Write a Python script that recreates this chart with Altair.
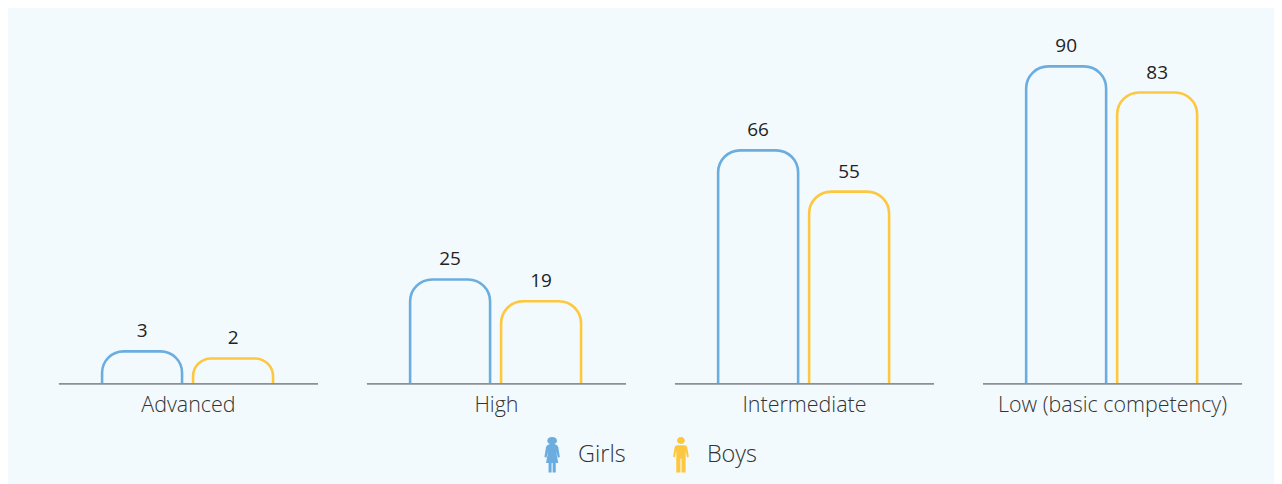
import altair as alt
import pandas as pd

categories = ["Advanced", "High", "Intermediate", "Low (basic competency)"]
genders = ["Girls", "Boys"]
girls_labels = [3, 25, 66, 90]
boys_labels = [2, 19, 55, 83]
# Bar heights as drawn in the picture (they are not strictly proportional to the printed labels)
girls_drawn = [9.2, 29.6, 66.2, 90.0]
boys_drawn = [7.2, 23.4, 54.5, 82.6]

BLUE = "#6cade0"
YELLOW = "#fdc83f"
BG = "#f2fafd"
GREY = "#8c8f93"

GIRL = ("M0 -1 C0.16 -1 0.27 -0.92 0.27 -0.78 C0.27 -0.7 0.2 -0.64 0.12 -0.61 L0.2 -0.58 Q0.31 -0.55 0.34 -0.44 "
        "L0.43 0.12 L0.32 0.16 L0.22 -0.2 L0.34 0.45 L0.2 0.45 L0.2 0.98 L0.03 0.98 L0.03 0.45 L-0.03 0.45 "
        "L-0.03 0.98 L-0.2 0.98 L-0.2 0.45 L-0.34 0.45 L-0.22 -0.2 L-0.32 0.16 L-0.43 0.12 L-0.34 -0.44 "
        "Q-0.31 -0.55 -0.2 -0.58 L-0.12 -0.61 C-0.2 -0.64 -0.27 -0.7 -0.27 -0.78 C-0.27 -0.92 -0.16 -1 0 -1 Z")
BOY = ("M0 -1 C0.12 -1 0.22 -0.91 0.22 -0.8 C0.22 -0.69 0.12 -0.6 0 -0.6 C-0.12 -0.6 -0.22 -0.69 -0.22 -0.8 "
       "C-0.22 -0.91 -0.12 -1 0 -1 Z M-0.2 -0.54 L0.2 -0.54 Q0.32 -0.54 0.35 -0.42 L0.44 0.1 L0.34 0.14 "
       "L0.26 -0.25 L0.26 0.98 L0.03 0.98 L0.03 0.2 L-0.03 0.2 L-0.03 0.98 L-0.26 0.98 L-0.26 -0.25 "
       "L-0.34 0.14 L-0.44 0.1 L-0.35 -0.42 Q-0.32 -0.54 -0.2 -0.54 Z")

rows = []
for i, c in enumerate(categories):
    rows.append({"cat": c, "gender": "Girls", "label": girls_labels[i], "drawn": girls_drawn[i]})
    rows.append({"cat": c, "gender": "Boys", "label": boys_labels[i], "drawn": boys_drawn[i]})
df = pd.DataFrame(rows)

x = alt.X("cat:N", sort=categories, title=None,
          scale=alt.Scale(domain=categories, paddingInner=0.159, paddingOuter=0),
          axis=alt.Axis(labelAngle=0, ticks=False, domain=False, grid=False, title=None,
                        labelFont="Open Sans", labelFontSize=21.5, labelFontWeight=300,
                        labelColor="#333333", labelPadding=11, labelLimit=400))
xo = alt.XOffset("gender:N", sort=genders,
                 scale=alt.Scale(domain=genders, paddingInner=0.121, paddingOuter=0.484, align=0.49))
yscale = alt.Scale(domain=[0, 92], nice=False, zero=False)

baseline = alt.Chart(df).mark_rect(stroke=GREY, strokeWidth=1.5, fillOpacity=0).encode(
    x=x,
    y=alt.Y(datum=0, scale=yscale, axis=None),
    y2=alt.datum(0),
)

# points only carry the pictogram legend; drawn first and tiny, behind the bar tops
keys = alt.Chart(df).mark_point(filled=True, size=1, opacity=1).encode(
    x=x,
    xOffset=xo,
    y=alt.Y("drawn:Q", scale=yscale, axis=None),
    color=alt.Color("gender:N", scale=alt.Scale(domain=genders, range=[BLUE, YELLOW]), title=None,
                    legend=alt.Legend(
                        orient="none", legendX=476, legendY=378, direction="horizontal", title=None,
                        symbolSize=1296, symbolStrokeWidth=0,
                        labelFont="Open Sans", labelFontSize=23.5, labelFontWeight=300, labelColor="#333333",
                        labelOffset=8, columnPadding=37, labelLimit=200)),
    shape=alt.Shape("gender:N", scale=alt.Scale(domain=genders, range=[GIRL, BOY]), title=None),
)

bars = alt.Chart(df).mark_bar(
    filled=False, fillOpacity=0, strokeWidth=2.6, clip=True,
    cornerRadiusTopLeft=22, cornerRadiusTopRight=22,
).encode(
    x=x,
    xOffset=xo,
    y=alt.Y("drawn:Q", scale=yscale, axis=None),
    y2=alt.datum(-3),
    stroke=alt.Stroke("gender:N", scale=alt.Scale(domain=genders, range=[BLUE, YELLOW]), legend=None),
)

texts = alt.Chart(df).mark_text(
    font="Open Sans", fontSize=19, color="#222222", baseline="middle", dy=-20,
).encode(
    x=x,
    xOffset=xo,
    y=alt.Y("drawn:Q", scale=yscale, axis=None),
    text="label:Q",
)

chart = alt.layer(keys, bars, baseline, texts).properties(
    width=1185, height=325,
    background=BG,
    padding={"left": 50, "top": 29, "right": 31, "bottom": 67},
).configure_view(stroke=None)

chart.save("out.html", embed_options={"renderer": "svg", "actions": False})
